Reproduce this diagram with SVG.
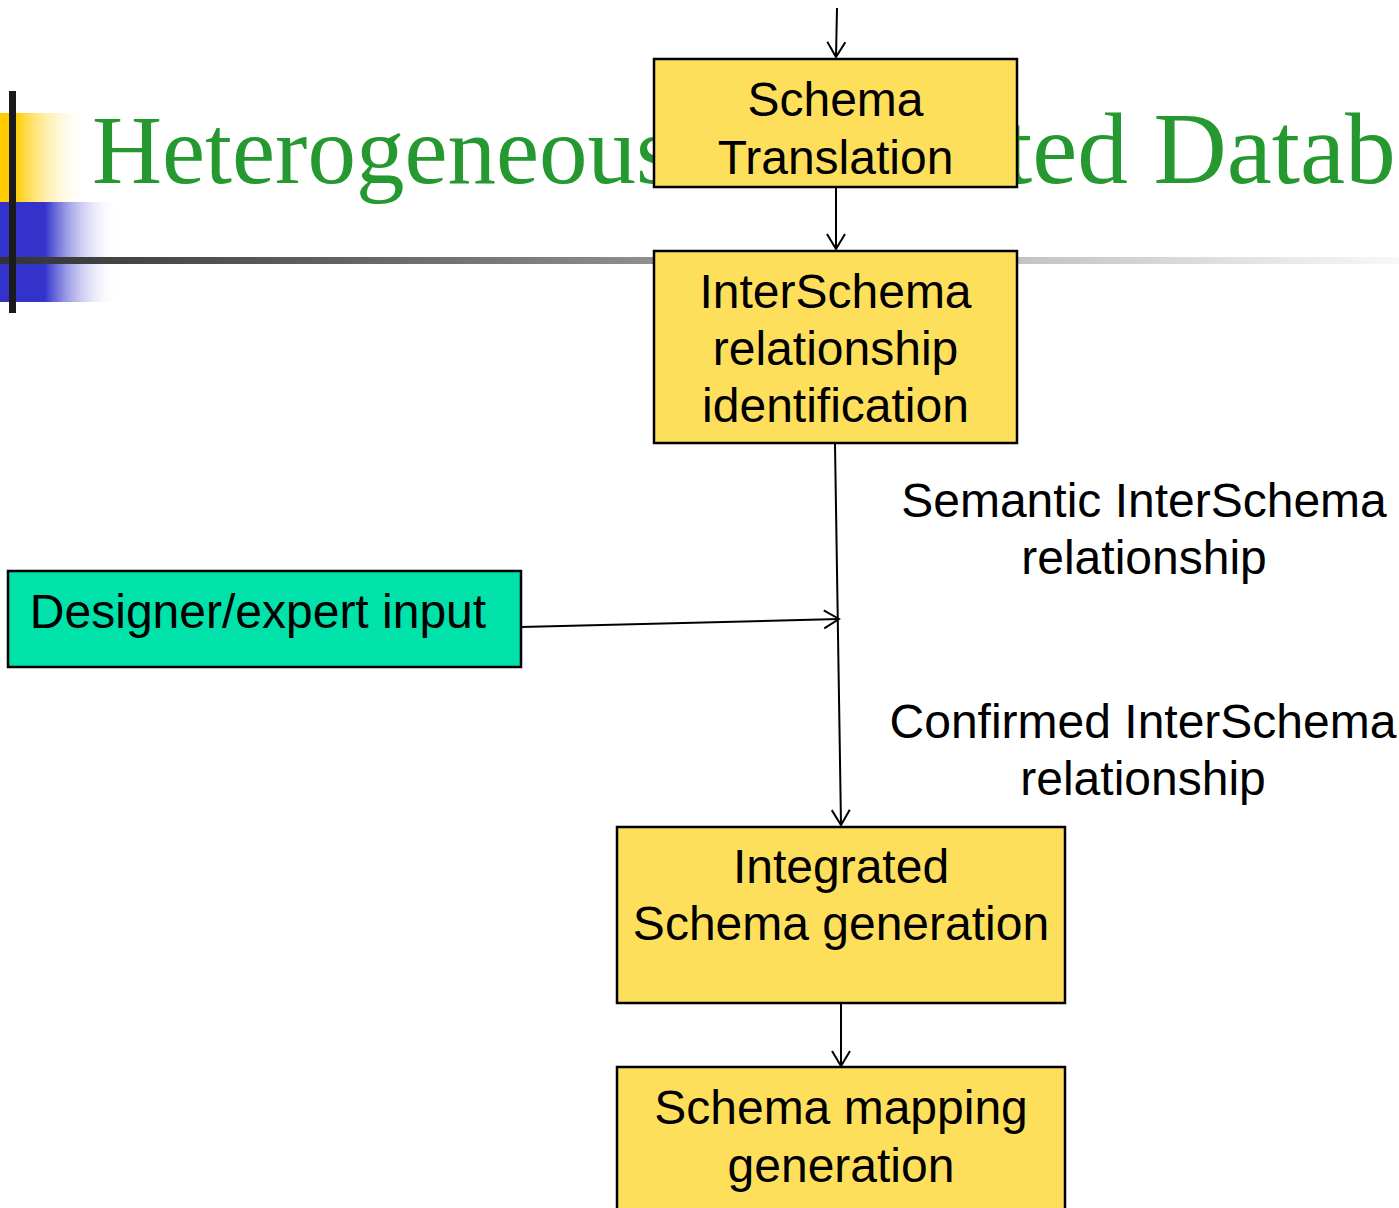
<svg xmlns="http://www.w3.org/2000/svg" width="1399" height="1208" viewBox="0 0 1399 1208">
  <style>
    .box { fill: #FEDF5C; stroke: #000; stroke-width: 2.5; }
    .input { fill: #00E2A9; stroke: #000; stroke-width: 2.5; }
    .lbl { font-family: "Liberation Sans", Arial, sans-serif; font-size: 48px; fill: #000; text-anchor: middle; }
    .title { font-family: "Liberation Serif", "Times New Roman", serif; font-size: 97px; fill: #25992F; }
    .conn { fill: none; stroke: #000; stroke-width: 2; marker-end: url(#arr); }
  </style>
  <defs>
    <linearGradient id="gYellow" x1="0" y1="0" x2="1" y2="0">
      <stop offset="0" stop-color="#FFCC00"/>
      <stop offset="0.17" stop-color="#FFCC00"/>
      <stop offset="1" stop-color="#FFFFFF" stop-opacity="0"/>
    </linearGradient>
    <linearGradient id="gBlue" x1="0" y1="0" x2="1" y2="0">
      <stop offset="0" stop-color="#3333CC"/>
      <stop offset="0.38" stop-color="#3333CC"/>
      <stop offset="1" stop-color="#FFFFFF" stop-opacity="0"/>
    </linearGradient>
    <linearGradient id="gRule" gradientUnits="userSpaceOnUse" x1="0" y1="0" x2="1400" y2="0">
      <stop offset="0" stop-color="#333333"/>
      <stop offset="1" stop-color="#F8F8F8"/>
    </linearGradient>
    <marker id="arr" markerUnits="userSpaceOnUse" viewBox="-18 -12 20 24" refX="0" refY="0" markerWidth="20" markerHeight="24" orient="auto">
      <path d="M-15,-9 L0,0 L-15,9" fill="none" stroke="#000" stroke-width="2"/>
    </marker>
  </defs>

  <!-- slide header decoration -->
  <g id="header">
    <rect x="0" y="113" width="88" height="89" fill="url(#gYellow)"/>
    <rect x="0" y="202" width="118" height="100" fill="url(#gBlue)"/>
    <rect x="0" y="257" width="1399" height="7" fill="url(#gRule)"/>
    <rect x="9" y="91" width="7" height="222" fill="#1A1A1A"/>
    <text class="title" y="183"><tspan x="92">Heterogeneous Federa</tspan><tspan x="1004" font-size="101.5">ted Databases</tspan></text>
  </g>

  <!-- connectors -->
  <g id="connectors">
    <path class="conn" d="M837,8 L836,57"/>
    <path class="conn" d="M836,188 L836,249"/>
    <path class="conn" d="M835,444 L841,825"/>
    <path class="conn" d="M521,627 L839,619"/>
    <path class="conn" d="M841,1004 L841,1066"/>
  </g>

  <g id="schema-translation">
    <rect class="box" x="654" y="59" width="363" height="128"/>
    <text class="lbl" x="835.5" y="116">Schema</text>
    <text class="lbl" x="835.5" y="174">Translation</text>
  </g>

  <g id="interschema-identification">
    <rect class="box" x="654" y="251" width="363" height="192"/>
    <text class="lbl" x="835.5" y="308">InterSchema</text>
    <text class="lbl" x="835.5" y="365">relationship</text>
    <text class="lbl" x="835.5" y="422">identification</text>
  </g>

  <g id="designer-input">
    <rect class="input" x="8" y="571" width="513" height="96"/>
    <text class="lbl" x="258" y="628">Designer/expert input</text>
  </g>

  <g id="semantic-label">
    <text class="lbl" x="1144" y="517">Semantic InterSchema</text>
    <text class="lbl" x="1144" y="574">relationship</text>
  </g>

  <g id="confirmed-label">
    <text class="lbl" x="1143" y="738">Confirmed InterSchema</text>
    <text class="lbl" x="1143" y="795">relationship</text>
  </g>

  <g id="integrated-schema">
    <rect class="box" x="617" y="827" width="448" height="176"/>
    <text class="lbl" x="841" y="883">Integrated</text>
    <text class="lbl" x="841" y="940">Schema generation</text>
  </g>

  <g id="schema-mapping">
    <rect class="box" x="617" y="1067" width="448" height="170"/>
    <text class="lbl" x="841" y="1124">Schema mapping</text>
    <text class="lbl" x="841" y="1182">generation</text>
  </g>
</svg>
